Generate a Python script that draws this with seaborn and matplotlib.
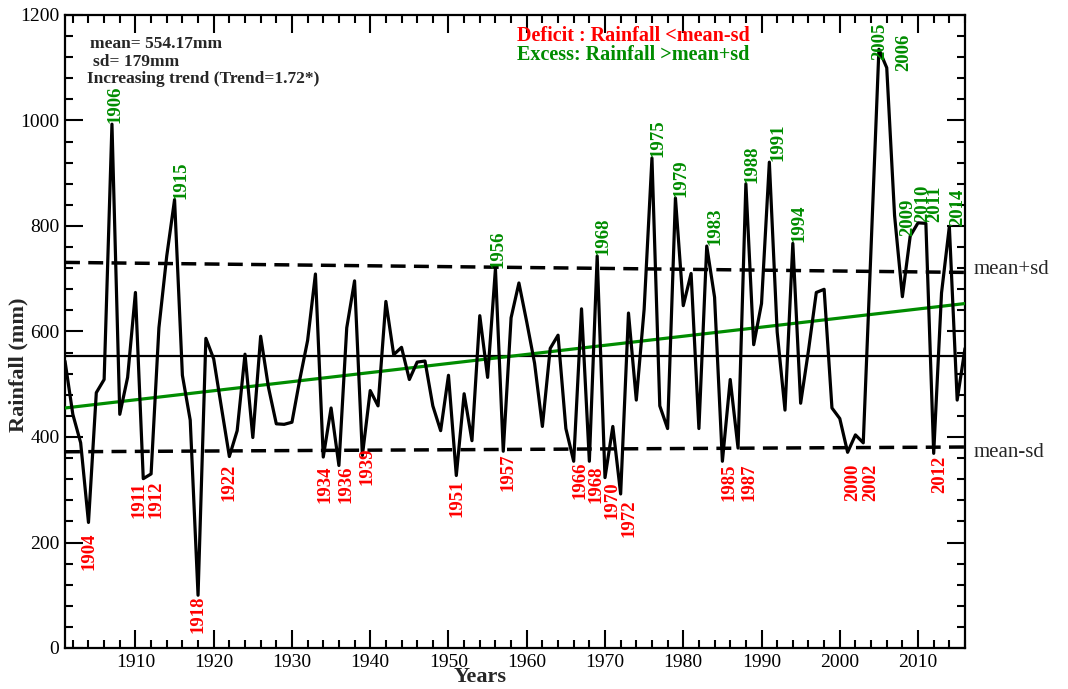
import matplotlib
matplotlib.use("Agg")
import matplotlib.pyplot as plt
import matplotlib.transforms as mtransforms
from matplotlib.ticker import MultipleLocator
import numpy as np
import pandas as pd
import seaborn as sns

# ---------------- data ----------------
years = list(range(1901, 2017))
rainfall = [
    544, 443, 389, 238, 484, 509, 993, 443, 513, 674,   # 1901-1910
    321, 330, 607, 743, 850, 517, 432, 100, 587, 548,   # 1911-1920
    455, 363, 412, 557, 399, 591, 494, 425, 424, 428,   # 1921-1930
    509, 583, 709, 362, 455, 346, 607, 696, 365, 488,   # 1931-1940
    459, 657, 556, 570, 509, 542, 544, 459, 412, 517,   # 1941-1950
    327, 482, 393, 630, 513, 719, 373, 626, 692, 618,   # 1951-1960
    540, 420, 568, 593, 416, 354, 643, 354, 743, 323,   # 1961-1970
    420, 292, 635, 470, 642, 929, 459, 416, 853, 649,   # 1971-1980
    710, 416, 762, 665, 354, 509, 379, 880, 575, 653,   # 1981-1990
    921, 599, 451, 767, 464, 564, 674, 680, 455, 435,   # 1991-2000
    371, 404, 389, 760, 1135, 1100, 820, 666, 781, 806, # 2001-2010
    805, 369, 673, 799, 470, 568,                       # 2011-2016
]
assert len(years) == len(rainfall)

mean_value = 554.17
band_years = [1901, 2016]
upper_band = [731, 712]     # mean+sd
lower_band = [372, 381]     # mean-sd
trend_values = [455, 653]   # linear trend

excess_text = ["1906", "1915", "1956", "1968", "1975", "1979", "1983", "1988",
               "1991", "1994", "2005", "2006", "2009", "2010", "2011", "2014"]
excess_anchor = [1907, 1915, 1956, 1969, 1976, 1979, 1983, 1988,
                 1991, 1994, 2005, 2006, 2009, 2010, 2011, 2014]
deficit_text = ["1904", "1911", "1912", "1918", "1922", "1934", "1936", "1939",
                "1951", "1957", "1966", "1968", "1970", "1972", "1985", "1987",
                "2000", "2002", "2012"]
deficit_anchor = [1904, 1911, 1912, 1918, 1922, 1934, 1936, 1939,
                  1951, 1957, 1966, 1968, 1970, 1972, 1985, 1987,
                  2001, 2002, 2012]

# label offsets in pixels (dx, dy)
excess_offsets = [(3, 1), (6, 1), (3, 1), (6, 1), (6, 1), (6, 1), (8, 1), (6, 1),
                  (9, 1), (6, 1), (1, -11), (17, -3), (-2, 0), (5, 1), (9, 1), (8, 1)]
deficit_offsets = [(1, -10), (-4, -3), (5, -7), (0, 0), (0, -7), (2, -8), (7, 0), (5, 8),
                   (1, -4), (5, -2), (6, 0), (7, -4), (7, -4), (8, -6), (7, -2), (11, -15),
                   (5, -11), (15, -29), (6, -2)]

df = pd.DataFrame({"Year": years, "Rainfall": rainfall})
value_of = dict(zip(years, rainfall))

# ---------------- style ----------------
sns.set_theme(style="ticks")
serif = ["Liberation Serif", "DejaVu Serif"]
plt.rcParams["font.family"] = serif
plt.rcParams["axes.linewidth"] = 1.6

GREEN = "#008C00"
RED = "#FF0000"

fig = plt.figure(figsize=(10.68, 6.89), dpi=100)
ax = fig.add_axes([65 / 1068, 1 - 648 / 689, 900 / 1068, 633 / 689])

# reference lines
ax.axhline(mean_value, color="black", lw=1.6, zorder=2)
sns.lineplot(x=band_years, y=upper_band, ax=ax, color="black", lw=2.5,
             zorder=2).lines[-1].set_dashes((4.3, 2.4))
sns.lineplot(x=band_years, y=lower_band, ax=ax, color="black", lw=2.5,
             zorder=2).lines[-1].set_dashes((4.3, 2.4))
sns.lineplot(x=band_years, y=trend_values, ax=ax, color=GREEN, lw=2.3, zorder=3)

# main series
sns.lineplot(data=df, x="Year", y="Rainfall", ax=ax, color="black", lw=2.3, zorder=4)

# annotations
for txt, yr, (dx, dy) in zip(excess_text, excess_anchor, excess_offsets):
    ax.annotate(txt, (yr, value_of[yr]), xytext=(dx, dy), textcoords="offset pixels",
                rotation=90, ha="center", va="bottom", color=GREEN,
                fontsize=13.5, fontweight="bold", zorder=5)
for txt, yr, (dx, dy) in zip(deficit_text, deficit_anchor, deficit_offsets):
    ax.annotate(txt, (yr, value_of[yr]), xytext=(dx, dy), textcoords="offset pixels",
                rotation=90, ha="center", va="top", color=RED,
                fontsize=13.5, fontweight="bold", zorder=5)

# info texts
ax.text(0.028, 0.954, "mean= 554.17mm", transform=ax.transAxes, fontsize=12.5,
        fontweight="bold", va="center", ha="left")
ax.text(0.031, 0.926, "sd= 179mm", transform=ax.transAxes, fontsize=12.5,
        fontweight="bold", va="center", ha="left")
ax.text(0.0245, 0.899, "Increasing trend (Trend=1.72*)", transform=ax.transAxes,
        fontsize=12.5, fontweight="bold", va="center", ha="left")
ax.text(0.502, 0.967, "Deficit : Rainfall <mean-sd", transform=ax.transAxes,
        fontsize=14.5, fontweight="bold", va="center", ha="left", color=RED)
ax.text(0.502, 0.937, "Excess: Rainfall >mean+sd", transform=ax.transAxes,
        fontsize=14.5, fontweight="bold", va="center", ha="left", color=GREEN)

blend = mtransforms.blended_transform_factory(ax.transAxes, ax.transData)
ax.text(1.009, upper_band[-1] + 6, "mean+sd", transform=blend, fontsize=15,
        va="center", ha="left", clip_on=False)
ax.text(1.009, lower_band[-1] - 10, "mean-sd", transform=blend, fontsize=15,
        va="center", ha="left", clip_on=False)

# axes
ax.set_xlim(1901, 2016)
ax.set_ylim(0, 1200)
ax.xaxis.set_major_locator(MultipleLocator(10))
ax.xaxis.set_minor_locator(MultipleLocator(2))
ax.yaxis.set_major_locator(MultipleLocator(200))
ax.yaxis.set_minor_locator(MultipleLocator(40))
ax.tick_params(which="both", direction="in", top=True, right=True,
               labelsize=14, width=1.5, colors="black")
ax.tick_params(which="major", length=13, pad=4)
ax.tick_params(which="minor", length=6)
for s in ax.spines.values():
    s.set_visible(True)
    s.set_color("black")
    s.set_linewidth(1.6)

ax.set_xlabel("Years", fontsize=16, fontweight="bold")
ax.set_ylabel("Rainfall (mm)", fontsize=16, fontweight="bold")
ax.xaxis.set_label_coords(0.461, -0.030)
ax.yaxis.set_label_coords(-0.041, 0.447)

fig.savefig("out.png", dpi=100)
